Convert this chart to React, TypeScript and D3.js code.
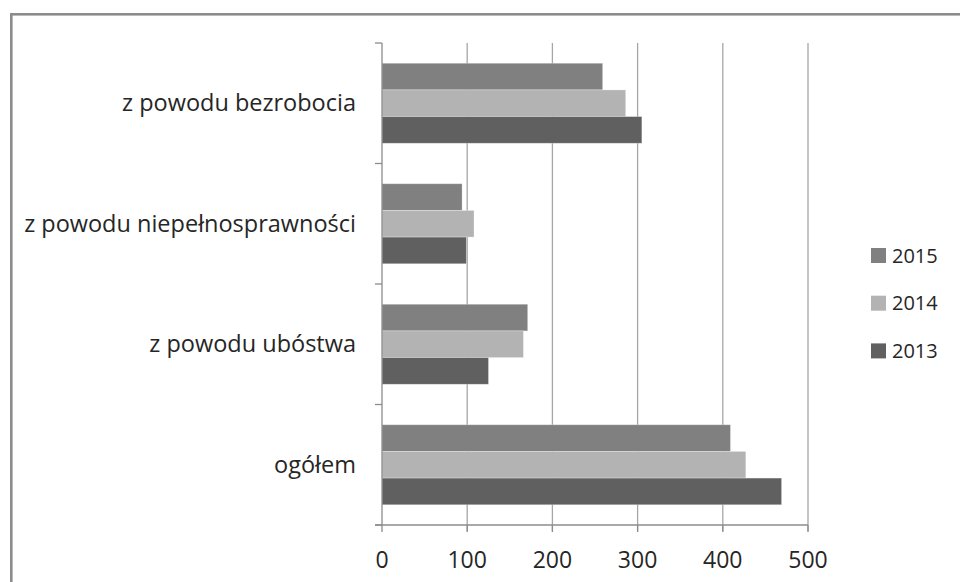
import React from "react";
import * as d3 from "d3";

const categories = [
  "z powodu bezrobocia",
  "z powodu niepełnosprawności",
  "z powodu ubóstwa",
  "ogółem",
];
const seriesNames = ["2015", "2014", "2013"];
const values2015 = [259, 94, 171, 409];
const values2014 = [286, 108, 166, 427];
const values2013 = [305, 99, 125, 469];
const xTicks = [0, 100, 200, 300, 400, 500];

const seriesValues = [values2015, values2014, values2013];
const colors = ["#808080", "#b3b3b3", "#606060"];

const W = 960;
const H = 582;
const FONT = "'Open Sans', Lato, sans-serif";

export default function App() {
  const x = d3.scaleLinear().domain([0, 500]).range([382, 808]);
  const yOuter = d3.scaleBand<string>().domain(categories).range([43, 525]).padding(0);
  const y = d3
    .scaleBand<string>()
    .domain(categories)
    .range([43, 525])
    .paddingInner(0.336)
    .paddingOuter(0.168);
  const ySub = d3.scaleBand<string>().domain(seriesNames).range([0, y.bandwidth()]).padding(0);

  const boundaries = categories.map((c) => yOuter(c) as number).concat([525]);

  return (
    <svg
      width={W}
      height={H}
      style={{ position: "absolute", left: 0, top: 0, display: "block" }}
      fontFamily={FONT}
    >
      <rect x={0} y={0} width={W} height={H} fill="#ffffff" />
      {/* outer border */}
      <rect x={11.3} y={14.3} width={W + 20} height={H + 20} fill="none" stroke="#8c8c8c" strokeWidth={2.6} />

      {/* gridlines */}
      {xTicks.slice(1).map((t) => (
        <line key={"g" + t} x1={x(t)} x2={x(t)} y1={43} y2={531} stroke="#a6a6a6" strokeWidth={1.3} />
      ))}

      {/* bars */}
      {categories.map((c, i) => (
        <g key={c} transform={`translate(0,${y(c)})`}>
          {seriesNames.map((s, j) => (
            <rect
              key={s}
              x={x(0)}
              y={ySub(s) as number}
              width={x(seriesValues[j][i]) - x(0)}
              height={ySub.bandwidth()}
              fill={colors[j]}
              stroke="#ffffff"
              strokeOpacity={0.35}
              strokeWidth={0.8}
            />
          ))}
        </g>
      ))}

      {/* y axis */}
      <line x1={382} x2={382} y1={43} y2={525} stroke="#8c8c8c" strokeWidth={1.3} />
      {boundaries.map((b, i) => (
        <line key={"yt" + i} x1={375} x2={382} y1={b} y2={b} stroke="#8c8c8c" strokeWidth={1.3} />
      ))}
      {/* x axis */}
      <line x1={375} x2={808} y1={525} y2={525} stroke="#8c8c8c" strokeWidth={1.3} />
      {xTicks.map((t) => (
        <line key={"xt" + t} x1={x(t)} x2={x(t)} y1={525} y2={532} stroke="#8c8c8c" strokeWidth={1.3} />
      ))}

      {/* x tick labels */}
      {xTicks.map((t) => (
        <text key={"xl" + t} x={x(t)} y={568} textAnchor="middle" fontSize={23} fill="#262626">
          {t}
        </text>
      ))}

      {/* category labels */}
      {categories.map((c) => (
        <text
          key={"cl" + c}
          x={356}
          y={(yOuter(c) as number) + yOuter.bandwidth() / 2 + 8}
          textAnchor="end"
          fontSize={23.5}
          fill="#262626"
        >
          {c}
        </text>
      ))}

      {/* legend */}
      {seriesNames.map((s, j) => (
        <g key={"lg" + s} transform={`translate(871,${248 + j * 47.7})`}>
          <rect x={0} y={0} width={15} height={15} fill={colors[j]} />
          <text x={21} y={14.5} fontSize={20} fill="#262626">
            {s}
          </text>
        </g>
      ))}
    </svg>
  );
}
